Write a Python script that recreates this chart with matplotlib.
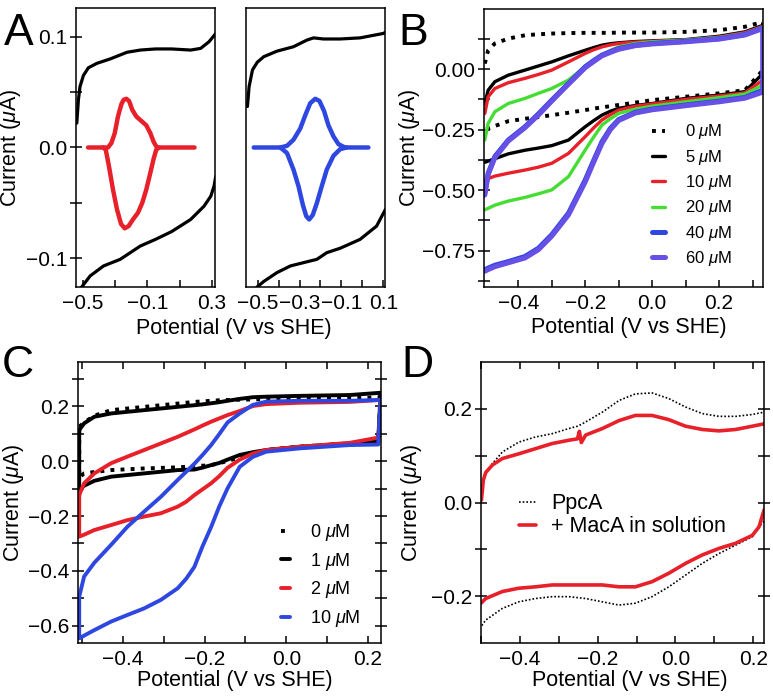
import matplotlib
matplotlib.use('Agg')
import matplotlib.pyplot as plt
from matplotlib.ticker import FixedLocator

plt.rcParams['font.family'] = ['Liberation Sans', 'DejaVu Sans']
plt.rcParams['mathtext.fontset'] = 'custom'
plt.rcParams['mathtext.rm'] = 'Liberation Sans'
plt.rcParams['mathtext.it'] = 'Liberation Sans:italic'
plt.rcParams['axes.linewidth'] = 1.1
plt.rcParams['lines.solid_capstyle'] = 'round'
plt.rcParams['lines.solid_joinstyle'] = 'round'

RED = '#e8202a'
BLUE = '#2d47e0'
GREEN = '#45dd33'
PURPLE = '#6650e6'

# ---------------- panel A (left): PpcA film + baseline-subtracted peaks
a1_bx_up = [-0.539, -0.529, -0.519, -0.498, -0.467, -0.414, -0.331, -0.227, -0.144, -0.05, 0.05, 0.169, 0.231, 0.283, 0.325]
a1_by_up = [0.022, 0.043, 0.055, 0.065, 0.072, 0.076, 0.080, 0.086, 0.088, 0.089, 0.089, 0.088, 0.0895, 0.0955, 0.103]
a1_bx_lo = [0.325, 0.314, 0.294, 0.252, 0.169, 0.05, -0.05, -0.144, -0.269, -0.373, -0.456, -0.519, -0.56]
a1_by_lo = [-0.026, -0.035, -0.044, -0.053, -0.065, -0.076, -0.083, -0.089, -0.101, -0.107, -0.116, -0.128, -0.14]
a1_rx_up = [-0.469, -0.345, -0.324, -0.303, -0.283, -0.262, -0.248, -0.231, -0.214, -0.194, -0.169, -0.138,
            -0.107, -0.082, -0.061, -0.041, 0.193]
a1_ry_up = [0.0, 0.0, 0.004, 0.013, 0.028, 0.039, 0.043, 0.044, 0.042, 0.034, 0.028, 0.024,
            0.020, 0.013, 0.005, 0.0, 0.0]
a1_rx_lo = [-0.376, -0.359, -0.339, -0.314, -0.289, -0.264, -0.241, -0.217, -0.190, -0.159, -0.132, -0.107,
            -0.082, -0.061, -0.045, -0.028]
a1_ry_lo = [0.0, -0.002, -0.017, -0.038, -0.056, -0.069, -0.073, -0.071, -0.065, -0.059, -0.050, -0.038,
            -0.023, -0.010, -0.002, 0.0]

# ---------------- panel A (right): simulated
a2_bx_up = [-0.549, -0.541, -0.525, -0.502, -0.471, -0.408, -0.329, -0.265, -0.233, -0.186, -0.106, -0.011, 0.1, 0.11]
a2_by_up = [0.037, 0.055, 0.070, 0.077, 0.082, 0.087, 0.091, 0.097, 0.099, 0.098, 0.098, 0.099, 0.103, 0.104]
a2_bx_lo = [0.11, 0.068, -0.011, -0.106, -0.170, -0.217, -0.281, -0.344, -0.408, -0.471, -0.503, -0.56]
a2_by_lo = [-0.056, -0.071, -0.083, -0.091, -0.095, -0.101, -0.104, -0.107, -0.113, -0.121, -0.126, -0.14]
a2_x_up = [-0.519, -0.392, -0.360, -0.329, -0.297, -0.273, -0.249, -0.225, -0.205, -0.183, -0.162, -0.138,
           -0.114, -0.083, 0.029]
a2_y_up = [0.0, 0.0, 0.0015, 0.007, 0.017, 0.029, 0.040, 0.044, 0.042, 0.033, 0.020, 0.010,
           0.003, 0.0, 0.0]
a2_x_lo = [-0.392, -0.360, -0.329, -0.305, -0.284, -0.268, -0.254, -0.237, -0.217, -0.194, -0.170, -0.138,
           -0.106, -0.075]
a2_y_lo = [0.0, -0.005, -0.020, -0.035, -0.052, -0.062, -0.065, -0.061, -0.050, -0.035, -0.020, -0.0075,
           -0.0015, 0.0]

# ---------------- panel B: MacA titration
b_x = [-0.50, -0.49, -0.47, -0.43, -0.38, -0.34, -0.30, -0.25, -0.20, -0.175, -0.15, -0.125, -0.10, -0.05,
       0.0, 0.10, 0.20, 0.277, 0.331]
b_labels = ['0 $\\mu$M', '5 $\\mu$M', '10 $\\mu$M', '20 $\\mu$M', '40 $\\mu$M', '60 $\\mu$M']
b_up = [
    [0.023, 0.078, 0.106, 0.126, 0.140, 0.144, 0.147, 0.149, 0.150, 0.150, 0.150, 0.150, 0.151, 0.151,
     0.151, 0.154, 0.161, 0.175, 0.195],
    [-0.142, -0.087, -0.052, -0.025, -0.004, 0.013, 0.030, 0.055, 0.078, 0.089, 0.099, 0.105, 0.109, 0.114,
     0.117, 0.122, 0.136, 0.154, 0.181],
    [-0.183, -0.114, -0.080, -0.056, -0.038, -0.022, -0.004, 0.030, 0.065, 0.080, 0.092, 0.100, 0.106, 0.112,
     0.115, 0.120, 0.133, 0.151, 0.177],
    [-0.293, -0.224, -0.176, -0.142, -0.121, -0.100, -0.080, -0.045, 0.010, 0.035, 0.058, 0.077, 0.092, 0.106,
     0.113, 0.120, 0.131, 0.147, 0.174],
    [-0.513, -0.430, -0.361, -0.293, -0.238, -0.185, -0.128, -0.059, 0.010, 0.035, 0.058, 0.072, 0.085, 0.099,
     0.106, 0.115, 0.126, 0.143, 0.170],
    [-0.520, -0.435, -0.366, -0.297, -0.242, -0.190, -0.132, -0.062, 0.006, 0.031, 0.055, 0.069, 0.082, 0.097,
     0.104, 0.113, 0.124, 0.141, 0.168],
]
b_lo = [
    [-0.251, -0.245, -0.235, -0.215, -0.205, -0.198, -0.190, -0.180, -0.169, -0.163, -0.158, -0.153, -0.148,
     -0.138, -0.128, -0.114, -0.100, -0.087, -0.004],
    [-0.385, -0.380, -0.370, -0.350, -0.335, -0.326, -0.316, -0.293, -0.238, -0.213, -0.190, -0.174, -0.162,
     -0.150, -0.142, -0.121, -0.107, -0.093, -0.018],
    [-0.458, -0.452, -0.442, -0.430, -0.417, -0.405, -0.389, -0.348, -0.279, -0.243, -0.210, -0.188, -0.169,
     -0.153, -0.144, -0.125, -0.111, -0.098, -0.045],
    [-0.581, -0.575, -0.562, -0.545, -0.530, -0.515, -0.499, -0.444, -0.334, -0.281, -0.231, -0.205, -0.183,
     -0.165, -0.153, -0.135, -0.118, -0.103, -0.066],
    [-0.829, -0.822, -0.810, -0.795, -0.774, -0.740, -0.684, -0.595, -0.458, -0.378, -0.300, -0.245, -0.208,
     -0.178, -0.165, -0.148, -0.132, -0.117, -0.087],
    [-0.835, -0.828, -0.816, -0.800, -0.780, -0.746, -0.690, -0.602, -0.466, -0.385, -0.307, -0.250, -0.212,
     -0.181, -0.168, -0.151, -0.135, -0.120, -0.095],
]
b_colors = ['black', 'black', RED, GREEN, BLUE, PURPLE]

# ---------------- panel C: closed loops (upper sweep, then lower sweep back)
c_labels = ['0 $\\mu$M', '1 $\\mu$M', '2 $\\mu$M', '10 $\\mu$M']
c_x_up = [-0.507, -0.495, -0.470, -0.429, -0.389, -0.348, -0.307, -0.266, -0.225, -0.205, -0.184, -0.164,
          -0.144, -0.114, -0.082, -0.049, 0.033, 0.155, 0.229]
c_x_lo = [0.231, 0.225, 0.155, 0.033, -0.049, -0.082, -0.114, -0.144, -0.164, -0.184, -0.205, -0.225,
          -0.245, -0.266, -0.307, -0.348, -0.389, -0.429, -0.470, -0.495, -0.507]
c_up = [
    [0.125, 0.140, 0.165, 0.185, 0.191, 0.197, 0.203, 0.209, 0.215, 0.217, 0.219, 0.221,
     0.222, 0.223, 0.224, 0.225, 0.226, 0.228, 0.232],
    [0.113, 0.137, 0.161, 0.173, 0.179, 0.185, 0.191, 0.197, 0.203, 0.206, 0.210, 0.214,
     0.219, 0.226, 0.232, 0.234, 0.237, 0.240, 0.248],
    [-0.124, -0.081, -0.045, -0.008, 0.016, 0.040, 0.064, 0.088, 0.115, 0.129, 0.143, 0.155,
     0.167, 0.182, 0.200, 0.207, 0.212, 0.215, 0.222],
    [-0.493, -0.420, -0.370, -0.305, -0.239, -0.184, -0.130, -0.069, -0.010, 0.022, 0.058, 0.098,
     0.140, 0.173, 0.204, 0.216, 0.219, 0.219, 0.222],
]
c_lo = [
    [0.232, 0.072, 0.064, 0.052, 0.040, 0.025, 0.013, 0.000, -0.008, -0.015, -0.017, -0.019,
     -0.021, -0.023, -0.025, -0.027, -0.030, -0.033, -0.040, -0.045, -0.060],
    [0.248, 0.070, 0.064, 0.052, 0.040, 0.032, 0.022, 0.005, -0.007, -0.015, -0.024, -0.031,
     -0.032, -0.033, -0.039, -0.045, -0.051, -0.057, -0.072, -0.090, -0.106],
    [0.179, 0.085, 0.066, 0.052, 0.040, 0.027, 0.005, -0.025, -0.055, -0.081, -0.103, -0.124,
     -0.148, -0.166, -0.190, -0.202, -0.215, -0.233, -0.251, -0.268, -0.275],
    [0.222, 0.060, 0.058, 0.046, 0.034, 0.015, -0.021, -0.100, -0.165, -0.240, -0.310, -0.385,
     -0.428, -0.463, -0.505, -0.536, -0.560, -0.584, -0.615, -0.635, -0.645],
]
c_colors = ['black', 'black', RED, BLUE]

# ---------------- panel D: PpcA with MacA in solution
d_x_up = [-0.499, -0.494, -0.488, -0.471, -0.445, -0.403, -0.360, -0.317, -0.274, -0.252, -0.247, -0.242, -0.231,
          -0.188, -0.145, -0.103, -0.060, -0.017, 0.026, 0.069, 0.112, 0.155, 0.198, 0.228]
d_ppca_up = [0.015, 0.045, 0.062, 0.083, 0.108, 0.129, 0.140, 0.147, 0.158, 0.163, 0.165, 0.167, 0.172,
             0.193, 0.218, 0.232, 0.234, 0.222, 0.204, 0.190, 0.184, 0.184, 0.188, 0.193]
d_maca_up = [0.005, 0.048, 0.064, 0.080, 0.094, 0.104, 0.115, 0.126, 0.133, 0.136, 0.152, 0.128, 0.144,
             0.158, 0.175, 0.186, 0.186, 0.177, 0.163, 0.156, 0.153, 0.156, 0.163, 0.168]
d_x_lo = [0.228, 0.215, 0.198, 0.155, 0.112, 0.069, 0.026, -0.017, -0.060, -0.103, -0.145, -0.188,
          -0.231, -0.274, -0.317, -0.360, -0.403, -0.445, -0.488, -0.500]
d_ppca_lo = [-0.040, -0.052, -0.073, -0.091, -0.109, -0.130, -0.155, -0.180, -0.201, -0.215, -0.219, -0.212,
             -0.205, -0.201, -0.201, -0.205, -0.212, -0.226, -0.251, -0.265]
d_maca_lo = [-0.016, -0.052, -0.070, -0.087, -0.098, -0.112, -0.130, -0.151, -0.169, -0.180, -0.180, -0.176,
             -0.176, -0.176, -0.176, -0.180, -0.183, -0.190, -0.205, -0.215]

TICK_FS = 15
LAB_FS = 15.5
LET_FS = 32
XLABEL = 'Potential (V vs SHE)'
YLABEL = 'Current ($\\mu$A)'


def style(ax, four_sides=False):
    ax.tick_params(axis='y', which='both', direction='inout', length=9, width=1.1,
                   labelsize=TICK_FS, right=four_sides, pad=2)
    ax.tick_params(axis='x', which='both', direction='in', length=5, width=1.1,
                   labelsize=TICK_FS, top=four_sides, pad=5)


def labels(ax, xpos, ypos, ylab_x, xlabel=True):
    if xlabel:
        ax.set_xlabel(XLABEL, fontsize=LAB_FS, va='center')
        ax.xaxis.set_label_coords(xpos, ypos)
    ax.set_ylabel(YLABEL, fontsize=LAB_FS, va='center')
    ax.yaxis.set_label_coords(ylab_x, 0.5)


fig = plt.figure(figsize=(7.73, 7.0), dpi=100)

# A left
ax = fig.add_axes([0.0983, 0.590, 0.1798, 0.3986])
ax.plot(a1_bx_up, a1_by_up, color='black', lw=2.3)
ax.plot(a1_bx_lo, a1_by_lo, color='black', lw=2.3)
ax.plot(a1_rx_up, a1_ry_up, color=RED, lw=3.2)
ax.plot(a1_rx_lo, a1_ry_lo, color=RED, lw=3.2)
ax.set_xlim(-0.544, 0.32)
ax.set_ylim(-0.126, 0.126)
ax.xaxis.set_major_locator(FixedLocator([-0.5, -0.1, 0.3]))
ax.xaxis.set_minor_locator(FixedLocator([-0.3, 0.1]))
ax.yaxis.set_major_locator(FixedLocator([-0.1, 0.0, 0.1]))
ax.yaxis.set_minor_locator(FixedLocator([-0.05, 0.05]))
ax.set_yticklabels(['\u22120.1', '0.0', '0.1'])
ax.set_xticklabels(['\u22120.5', '\u22120.1', '0.3'])
style(ax)
labels(ax, 0, 0, (11 - 76) / 139, xlabel=False)

# A right
ax = fig.add_axes([0.3182, 0.590, 0.1798, 0.3986])
ax.plot(a2_bx_up, a2_by_up, color='black', lw=2.3)
ax.plot(a2_bx_lo, a2_by_lo, color='black', lw=2.3)
ax.plot(a2_x_up, a2_y_up, color=BLUE, lw=3.2)
ax.plot(a2_x_lo, a2_y_lo, color=BLUE, lw=3.2)
ax.set_xlim(-0.556, 0.108)
ax.set_ylim(-0.126, 0.126)
ax.xaxis.set_major_locator(FixedLocator([-0.5, -0.3, -0.1, 0.1]))
ax.xaxis.set_minor_locator(FixedLocator([-0.4, -0.2, 0.0]))
ax.set_xticklabels(['\u22120.5', '\u22120.3', '\u22120.1', '0.1'])
ax.set_yticks([])
style(ax)
fig.text(0.303, 1 - 328 / 700, XLABEL, fontsize=LAB_FS, ha='center', va='center')

# B
ax = fig.add_axes([0.6261, 0.590, 0.3609, 0.397])
for i in range(len(b_up)):
    xx = b_x + b_x[::-1]
    yy = b_up[i] + b_lo[i][::-1]
    if i == 0:
        ax.plot(xx, yy, color='black', lw=2.8, ls=(0, (1, 1.6)), label=b_labels[i])
    else:
        lw = 3.6 if i >= 4 else 2.4
        ax.plot(xx, yy, color=b_colors[i], lw=lw, label=b_labels[i])
ax.set_xlim(-0.5025, 0.331)
ax.set_ylim(-0.90, 0.248)
ax.xaxis.set_major_locator(FixedLocator([-0.4, -0.2, 0.0, 0.2]))
ax.xaxis.set_minor_locator(FixedLocator([-0.3, -0.1, 0.1, 0.3]))
ax.yaxis.set_major_locator(FixedLocator([-0.75, -0.5, -0.25, 0.0]))
ax.yaxis.set_minor_locator(FixedLocator([-0.875, -0.625, -0.375, -0.125, 0.125]))
ax.set_yticklabels(['\u22120.75', '\u22120.50', '\u22120.25', '0.00'])
ax.set_xticklabels(['\u22120.4', '\u22120.2', '0.0', '0.2'])
style(ax)
labels(ax, 0.52, -0.147, (410 - 484) / 279)
ax.legend(loc='center', bbox_to_anchor=(0.745, 0.33), frameon=False, fontsize=12,
          handlelength=0.8, handletextpad=1.2, labelspacing=0.38)

# C
ax = fig.add_axes([0.1009, 0.0814, 0.392, 0.4014])
for i in range(len(c_up)):
    xx = c_x_up + c_x_lo + c_x_up[:1]
    yy = c_up[i] + c_lo[i] + c_up[i][:1]
    if i == 0:
        ax.plot(xx, yy, color='black', lw=2.8, ls=(0, (1, 1.6)), label=c_labels[i])
    else:
        ax.plot(xx, yy, color=c_colors[i], lw=2.8, label=c_labels[i])
ax.set_xlim(-0.51, 0.232)
ax.set_ylim(-0.662, 0.36)
ax.xaxis.set_major_locator(FixedLocator([-0.4, -0.2, 0.0, 0.2]))
ax.xaxis.set_minor_locator(FixedLocator([-0.5, -0.3, -0.1, 0.1]))
ax.yaxis.set_major_locator(FixedLocator([-0.6, -0.4, -0.2, 0.0, 0.2]))
ax.yaxis.set_minor_locator(FixedLocator([-0.5, -0.3, -0.1, 0.1, 0.3]))
ax.set_yticklabels(['\u22120.6', '\u22120.4', '\u22120.2', '0.0', '0.2'])
ax.set_xticklabels(['\u22120.4', '\u22120.2', '0.0', '0.2'])
style(ax, four_sides=True)
labels(ax, 0.518, -0.134, (14 - 78) / 303)
ax.legend(loc='center', bbox_to_anchor=(0.80, 0.24), frameon=False, fontsize=13,
          handlelength=0.5, handletextpad=1.1, labelspacing=0.42)

# D
ax = fig.add_axes([0.6223, 0.0814, 0.3661, 0.4014])
ax.plot(d_x_up, d_ppca_up, color='black', lw=1.2, ls=(0, (1, 1.2)), label='PpcA')
ax.plot(d_x_lo, d_ppca_lo, color='black', lw=1.2, ls=(0, (1, 1.2)))
ax.plot(d_x_up, d_maca_up, color=RED, lw=2.6, label='+ MacA in solution')
ax.plot(d_x_lo, d_maca_lo, color=RED, lw=2.6)
ax.set_xlim(-0.5, 0.228)
ax.set_ylim(-0.3, 0.3)
ax.xaxis.set_major_locator(FixedLocator([-0.4, -0.2, 0.0, 0.2]))
ax.xaxis.set_minor_locator(FixedLocator([-0.5, -0.3, -0.1, 0.1]))
ax.yaxis.set_major_locator(FixedLocator([-0.2, 0.0, 0.2]))
ax.yaxis.set_minor_locator(FixedLocator([-0.1, 0.1]))
ax.set_yticklabels(['\u22120.2', '0.0', '0.2'])
ax.set_xticklabels(['\u22120.4', '\u22120.2', '0.0', '0.2'])
style(ax, four_sides=True)
labels(ax, 0.527, -0.134, (411 - 481) / 283)
ax.legend(loc='center', bbox_to_anchor=(0.50, 0.455), frameon=False, fontsize=15.5,
          handlelength=0.8, handletextpad=0.7, labelspacing=0.1)

# panel letters
fig.text(0.005, 1 - 45 / 700, 'A', fontsize=LET_FS, va='baseline')
fig.text(0.516, 1 - 45 / 700, 'B', fontsize=LET_FS, va='baseline')
fig.text(0.002, 1 - 377 / 700, 'C', fontsize=LET_FS, va='baseline')
fig.text(0.519, 1 - 377 / 700, 'D', fontsize=LET_FS, va='baseline')

fig.savefig('out.png', dpi=100)
